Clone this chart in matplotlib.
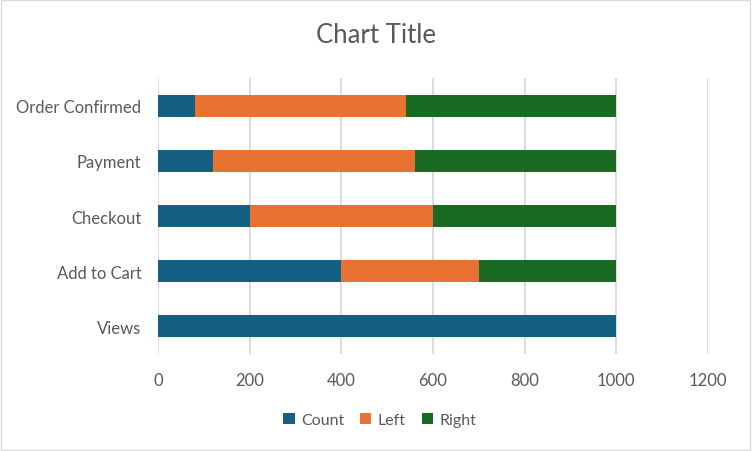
import matplotlib.pyplot as plt
import numpy as np

plt.rcParams['font.family'] = ['Lato', 'DejaVu Sans']

stages = ['Views', 'Add to Cart', 'Checkout', 'Payment', 'Order Confirmed']
count = [1000, 400, 200, 120, 80]
left = [0, 300, 400, 440, 460]
right = [0, 300, 400, 440, 460]

c_count = '#156082'
c_left = '#E97132'
c_right = '#196B24'
txt = '#595959'

fig = plt.figure(figsize=(7.52, 4.52), dpi=100)
ax = fig.add_axes([0.2101, 0.2146, 0.7314, 0.6106])

y = np.arange(len(stages))
h = 0.4
ax.barh(y, count, height=h, color=c_count, label='Count', zorder=3)
ax.barh(y, left, left=count, height=h, color=c_left, label='Left', zorder=3)
ax.barh(y, right, left=np.array(count) + np.array(left), height=h,
        color=c_right, label='Right', zorder=3)

ax.set_xlim(0, 1200)
ax.set_ylim(-0.5, len(stages) - 0.5)
ax.set_xticks(range(0, 1201, 200))
ax.set_yticks(y)
ax.set_yticklabels(stages)
ax.xaxis.grid(True, color='#D9D9D9', linewidth=1.3, zorder=0)
for s in ax.spines.values():
    s.set_visible(False)
ax.tick_params(length=0, colors=txt, labelsize=12)
ax.tick_params(axis='x', pad=13)
ax.tick_params(axis='y', pad=12)

fig.text(0.5, 0.922, 'Chart Title', ha='center', va='center', fontsize=18.5, color=txt)

ax.legend(loc='center', bbox_to_anchor=(0.505, 0.068), bbox_transform=fig.transFigure,
          ncol=3, frameon=False, fontsize=11.5, handlelength=0.7, handleheight=0.7,
          handletextpad=0.4, columnspacing=1.0, labelcolor=txt)

fig.patches.append(plt.Rectangle((0.001, 0.002), 0.997, 0.995, transform=fig.transFigure,
                                 fill=False, edgecolor='#D9D9D9', linewidth=1))

fig.savefig('out.png', dpi=100)
